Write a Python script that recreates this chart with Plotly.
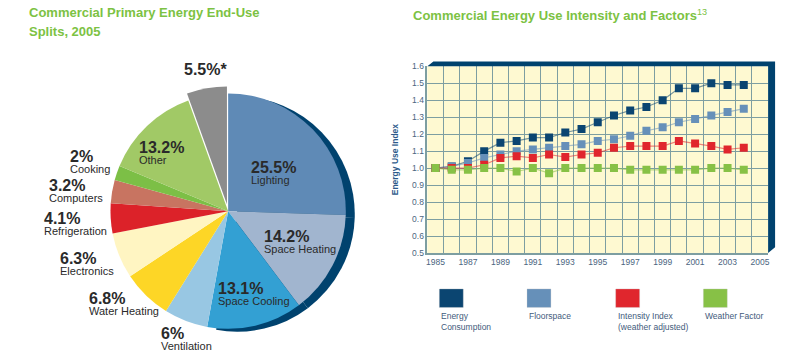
import math
import plotly.graph_objects as go

W, H = 800, 363
FONT = "Liberation Sans, Arial, sans-serif"

# ---------------- data ----------------
enduse_labels = ["Lighting", "Space Heating", "Space Cooling", "Ventilation", "Water Heating",
                 "Electronics", "Refrigeration", "Computers", "Cooking", "Other", ""]
enduse_values = [25.5, 14.2, 13.1, 6, 6.8, 6.3, 4.1, 3.2, 2, 13.2, 5.5]
enduse_colors = ["#5f8ab6", "#a1b5cf", "#33a0d3", "#98c7e3", "#fdd626", "#fff5c2",
                 "#dc2229", "#c87461", "#7cbf46", "#a1c966", "#8c8c8c"]

years = list(range(1985, 2005))
energy_consumption = [1.00, 1.01, 1.04, 1.10, 1.15, 1.16, 1.18, 1.18, 1.21, 1.23,
                      1.27, 1.31, 1.34, 1.36, 1.40, 1.47, 1.47, 1.50, 1.49, 1.49]
floorspace = [1.00, 1.01, 1.03, 1.06, 1.08, 1.10, 1.11, 1.12, 1.13, 1.14,
              1.16, 1.17, 1.19, 1.22, 1.24, 1.27, 1.29, 1.31, 1.33, 1.35]
intensity_index = [1.00, 1.00, 1.00, 1.02, 1.06, 1.07, 1.06, 1.08, 1.065, 1.08,
                   1.09, 1.12, 1.13, 1.13, 1.13, 1.16, 1.145, 1.13, 1.11, 1.12]
weather_factor = [1.00, 0.99, 0.99, 1.00, 1.00, 0.98, 1.00, 0.97, 1.00, 1.00,
                  1.00, 1.00, 0.99, 0.99, 0.99, 0.99, 0.99, 1.00, 1.00, 0.99]

series_names = ["Energy Consumption", "Floorspace", "Intensity Index (weather adjusted)", "Weather Factor"]
legend_texts = ["Energy<br>Consumption", "Floorspace", "Intensity Index<br>(weather adjusted)", "Weather Factor"]
series_values = [energy_consumption, floorspace, intensity_index, weather_factor]
series_colors = ["#0b4571", "#6690b9", "#e0262d", "#87c146"]
series_line_colors = ["rgba(11,69,113,0.55)", "rgba(102,144,185,0.55)",
                      "rgba(224,38,45,0.55)", "rgba(135,193,70,0.55)"]
x_tick_years = list(range(1985, 2006, 2))

# ---------------- style ----------------
NAVY = "#00426e"
GREEN_TITLE = "#7cc243"
TEXT_DARK = "#2a2a2a"
AXIS_TEXT = "#4b6580"
GRID = "#7d9ea1"

PIE_CX, PIE_CY, PIE_R = 228.0, 212.0, 121.0   # pixel geometry of the pie
PULL = 0.06
RIM_DX, RIM_DY = 9.0, 3.0
# label placement relative to each slice's mid angle (radius factor, angle nudge in degrees)
label_radius = [0.50, 0.65, 0.735, 1.14, 1.17, 1.25, 1.27, 1.275, 1.22, 0.745, 1.22]
label_nudge = [2.5, -4.2, -3.7, -3.4, 3.6, 1.4, -1.2, -1.8, 1.2, -4.6, 0.9]


def px(x):
    return x / W


def py(y):
    return 1 - y / H


fig = go.Figure()

# ---------- pie: navy 3D rim (same data, first three slices only) ----------
rim_colors = [NAVY, NAVY, NAVY] + ["rgba(0,0,0,0)"] * (len(enduse_values) - 3)
rcx, rcy = PIE_CX + RIM_DX, PIE_CY + RIM_DY
fig.add_trace(go.Pie(
    values=enduse_values, labels=enduse_labels, sort=False, direction="clockwise",
    marker=dict(colors=rim_colors, line=dict(width=0)),
    textinfo="none", hoverinfo="skip", showlegend=False,
    domain=dict(x=[px(rcx - PIE_R), px(rcx + PIE_R)], y=[py(rcy + PIE_R), py(rcy - PIE_R)]),
))

# ---------- main pie ----------
half_box = PIE_R * (1 + PULL)
pulls = [0] * (len(enduse_values) - 1) + [PULL]
fig.add_trace(go.Pie(
    values=enduse_values, labels=enduse_labels, sort=False, direction="clockwise",
    marker=dict(colors=enduse_colors, line=dict(width=0)),
    pull=pulls, textinfo="none", showlegend=False,
    domain=dict(x=[px(PIE_CX - half_box), px(PIE_CX + half_box)],
                y=[py(PIE_CY + half_box), py(PIE_CY - half_box)]),
))

# ---------- line chart ----------
for name, vals, col, lcol in zip(series_names, series_values, series_colors, series_line_colors):
    fig.add_trace(go.Scatter(
        x=years, y=vals, name=name, mode="lines+markers",
        line=dict(color=lcol, width=1.2),
        marker=dict(symbol="square", size=8, color=col),
        xaxis="x", yaxis="y", showlegend=False,
    ))

fig.update_layout(
    width=W, height=H,
    margin=dict(l=0, r=0, t=0, b=0),
    paper_bgcolor="white",
    plot_bgcolor="#fef9d1",
    font=dict(family=FONT, color=AXIS_TEXT),
    xaxis=dict(
        domain=[px(428), px(770)], range=[1984.5, 2005.5],
        tickmode="array", tickvals=x_tick_years, ticks="",
        tickfont=dict(size=8.5, color=AXIS_TEXT),
        showgrid=False, zeroline=False,
        showline=True, linecolor=GRID, linewidth=1.5,
        minor=dict(tick0=1984.5, dtick=1, showgrid=True, gridcolor=GRID, gridwidth=1.2, ticks=""),
        fixedrange=True,
    ),
    yaxis=dict(
        domain=[py(255), py(63)], range=[0.5, 1.6],
        tick0=0.5, dtick=0.1, tickformat=".1f", ticks="",
        tickfont=dict(size=8.5, color=AXIS_TEXT),
        showgrid=True, gridcolor=GRID, gridwidth=1.2, zeroline=False,
        showline=True, linecolor=GRID, linewidth=1.5,
        title=dict(text="<b>Energy Use Index</b>", font=dict(size=8.5, color="#2d5a8a"), standoff=12),
        fixedrange=True,
    ),
)

shapes = []
frame_path = (f"M {px(428)},{py(63)} L {px(434)},{py(58)} L {px(777)},{py(58)} "
              f"L {px(777)},{py(249)} L {px(770)},{py(255)} L {px(770)},{py(63)} Z")
shapes.append(dict(type="path", xref="paper", yref="paper", path=frame_path,
                   fillcolor=NAVY, line=dict(width=0)))

annotations = []
# pie labels positioned from each slice's mid angle
total = sum(enduse_values)
cum = 0.0
for lab, val, f, nd in zip(enduse_labels, enduse_values, label_radius, label_nudge):
    mid = (cum + val / 2) / total
    cum += val
    th = 2 * math.pi * mid + math.radians(nd)
    lx = PIE_CX + f * PIE_R * math.sin(th)
    ly = PIE_CY - f * PIE_R * math.cos(th)
    if lab:
        txt = (f"<span style='font-size:16px'><b>{val:g}%</b></span><br>"
               f"<span style='font-size:11px'>{lab}</span>")
    else:
        txt = f"<span style='font-size:16px'><b>{val:g}%*</b></span>"
    annotations.append(dict(xref="paper", yref="paper", x=px(lx), y=py(ly),
                            xanchor="center", yanchor="middle", align="left",
                            showarrow=False, text=txt,
                            font=dict(family=FONT, size=8.8, color=TEXT_DARK)))

# legend boxes + labels
legend_x = [440, 528, 617, 705]
for lx, col, txt in zip(legend_x, series_colors, legend_texts):
    shapes.append(dict(type="rect", xref="paper", yref="paper",
                       x0=px(lx), x1=px(lx + 24), y0=py(311), y1=py(292),
                       fillcolor=col, line=dict(color="rgba(200,200,200,0.6)", width=0.5)))
    annotations.append(dict(xref="paper", yref="paper", x=px(lx), y=py(313),
                            xanchor="left", yanchor="top", showarrow=False, align="left",
                            text=txt, font=dict(size=8.5, color="#3f5b7c")))

# titles
annotations.append(dict(xref="paper", yref="paper", x=px(26), y=py(8), xanchor="left", yanchor="middle",
                        showarrow=False, text="<b>Commercial Primary Energy End-Use</b>",
                        font=dict(size=13, color=GREEN_TITLE)))
annotations.append(dict(xref="paper", yref="paper", x=px(26), y=py(27), xanchor="left", yanchor="middle",
                        showarrow=False, text="<b>Splits, 2005</b>",
                        font=dict(size=13, color=GREEN_TITLE)))
annotations.append(dict(xref="paper", yref="paper", x=px(412), y=py(10), xanchor="left", yanchor="middle",
                        showarrow=False, text="<b>Commercial Energy Use Intensity and Factors</b><sup>13</sup>",
                        font=dict(size=13, color=GREEN_TITLE)))

fig.update_layout(shapes=shapes, annotations=annotations)

fig.write_html("out.html", config={"displayModeBar": False},
               post_script="document.body.style.margin='0px';")
